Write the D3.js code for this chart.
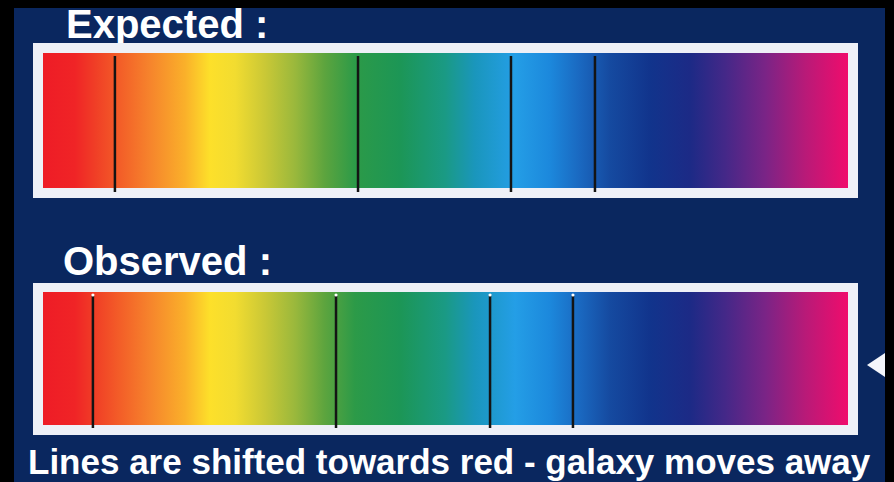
<!DOCTYPE html>
<html>
<head>
<meta charset="utf-8">
<script src="https://cdn.jsdelivr.net/npm/d3@7/dist/d3.min.js"></script>
<style>
  html, body { margin: 0; padding: 0; background: #000; }
  svg { display: block; }
</style>
</head>
<body>
<svg id="chart" width="894" height="482"></svg>
<script>
// ---- data ----
const panelTitles = ["Expected :", "Observed :"];
const expectedLines = [673.2, 582.6, 525.6, 494.3];   // nm
const observedLines = [681.4, 590.8, 533.4, 502.5];   // nm (shifted towards red)
const spectrumWavelengths = [700, 688.1, 680.6, 671.3, 660.1, 647.1, 637.8, 628.4, 617.3, 606.1, 594.9, 583.7, 566.9, 550.2, 539.0, 524.1, 511.1, 499.9, 488.7, 473.8, 458.9, 445.8, 430.9, 416.0, 400];
const spectrumColors = ["#ee1c26", "#f02426", "#f03e26", "#f35e28", "#f6842c", "#fab02a", "#fde02a", "#f2dc30", "#cac836", "#9ab83c", "#5ca43e", "#2c9a48", "#1c9656", "#1a9a84", "#1a96bc", "#249ee6", "#1c88dc", "#1a68c0", "#154aa0", "#11348c", "#1c2a86", "#442888", "#7a2486", "#b81a78", "#f00c6c"];
const caption = "Lines are shifted towards red - galaxy moves away";

// ---- layout ----
const svg = d3.select("#chart");
const W = 894, H = 482;
const inner = { left: 43, right: 848 };
const x = d3.scaleLinear().domain([700, 400]).range([inner.left, inner.right]);

// backgrounds
svg.append("rect").attr("width", W).attr("height", H).attr("fill", "#000");
svg.append("rect").attr("x", 14).attr("y", 8).attr("width", 871).attr("height", H - 8).attr("fill", "#0a275f");

// gradient
const defs = svg.append("defs");
const grad = defs.append("linearGradient").attr("id", "spec")
  .attr("gradientUnits", "userSpaceOnUse")
  .attr("x1", x(700)).attr("x2", x(400)).attr("y1", 0).attr("y2", 0);
grad.selectAll("stop").data(spectrumWavelengths).join("stop")
  .attr("offset", d => (x(d) - x(700)) / (x(400) - x(700)))
  .attr("stop-color", (d, i) => spectrumColors[i]);

const panels = [
  { title: panelTitles[0], lines: expectedLines, titleY: 38, frameTop: 43, frameBot: 198, innerTop: 53, innerBot: 188, lineTop: 56, lineBot: 192, dots: false },
  { title: panelTitles[1], lines: observedLines, titleY: 275, frameTop: 283, frameBot: 435, innerTop: 292, innerBot: 425, lineTop: 295, lineBot: 428, dots: true }
];

panels.forEach((p, pi) => {
  const g = svg.append("g");
  g.append("text")
    .attr("x", pi === 0 ? 66 : 63).attr("y", p.titleY)
    .attr("fill", "#ffffff")
    .attr("font-family", "'Liberation Sans', Arial, Helvetica, sans-serif")
    .attr("font-weight", "bold").attr("font-size", 40)
    .text(p.title);
  g.append("rect")
    .attr("x", 33).attr("y", p.frameTop)
    .attr("width", 858 - 33).attr("height", p.frameBot - p.frameTop)
    .attr("fill", "#eef0f7");
  g.append("rect")
    .attr("x", inner.left).attr("y", p.innerTop)
    .attr("width", inner.right - inner.left).attr("height", p.innerBot - p.innerTop)
    .attr("fill", "url(#spec)");
  g.selectAll("line.abs").data(p.lines).join("line")
    .attr("class", "abs")
    .attr("x1", d => x(d)).attr("x2", d => x(d))
    .attr("y1", p.lineTop).attr("y2", p.lineBot)
    .attr("stroke", "#141414").attr("stroke-width", 2.5);
  if (p.dots) {
    g.selectAll("circle.dot").data(p.lines).join("circle")
      .attr("class", "dot")
      .attr("cx", d => x(d)).attr("cy", p.lineTop)
      .attr("r", 1.6).attr("fill", "#ffffff");
  }
});

// small arrow marker on the right
svg.append("path")
  .attr("d", "M867,365 L885,353 L885,377 Z")
  .attr("fill", "#f4f6fb");
svg.append("rect").attr("x", 885).attr("y", 0).attr("width", 9).attr("height", H).attr("fill", "#000");

// caption
svg.append("text")
  .attr("x", 28).attr("y", 474)
  .attr("fill", "#ffffff")
  .attr("font-family", "'Liberation Sans', Arial, Helvetica, sans-serif")
  .attr("font-weight", "bold").attr("font-size", 35)
  .text(caption);
</script>
</body>
</html>
